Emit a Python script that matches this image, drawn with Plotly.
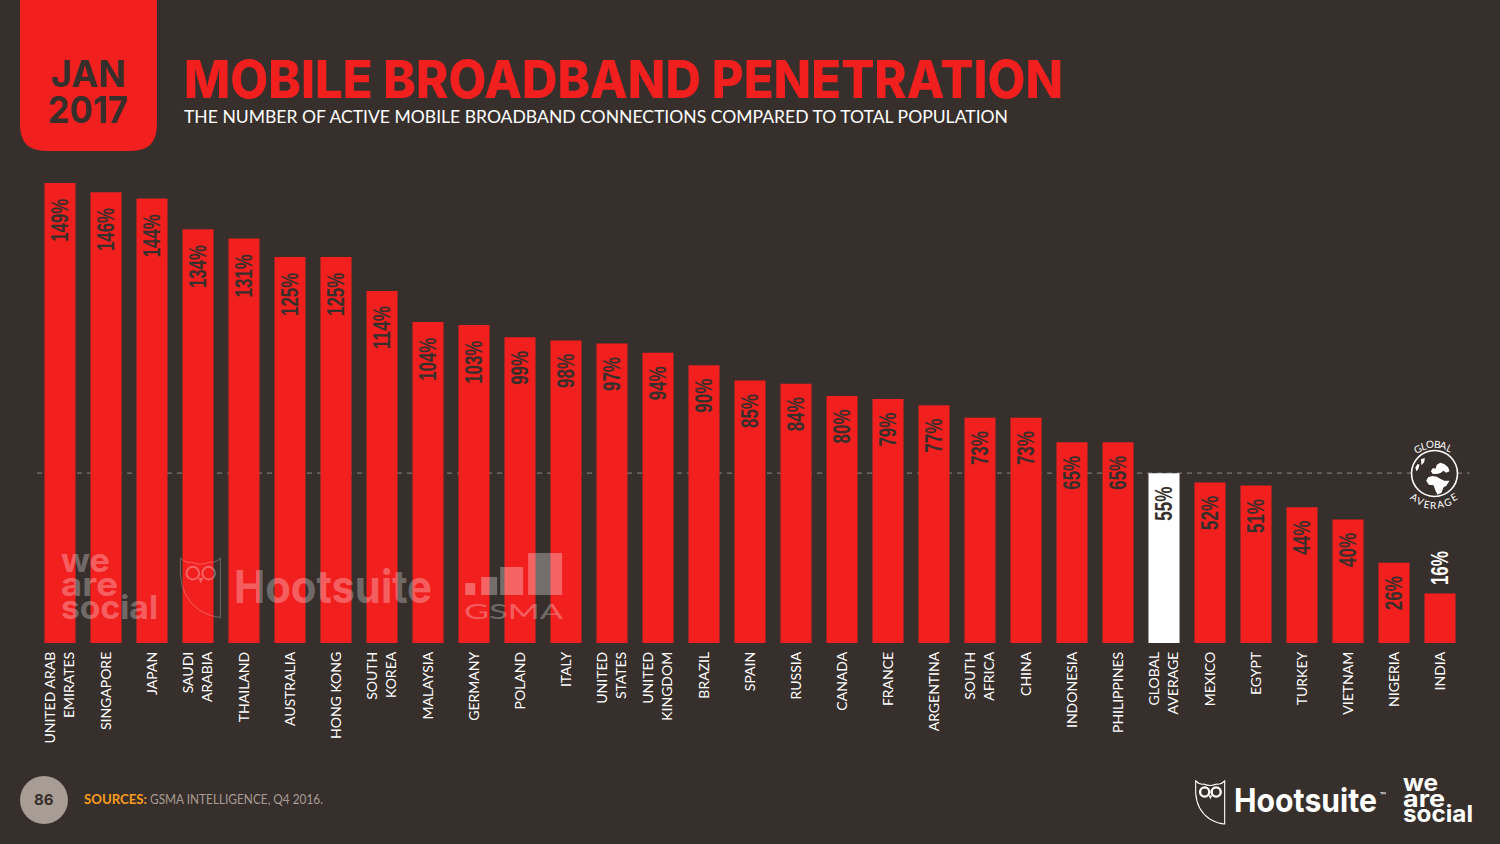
import json
import plotly.graph_objects as go

categories = ["UNITED ARAB<br>EMIRATES", "SINGAPORE", "JAPAN", "SAUDI<br>ARABIA", "THAILAND", "AUSTRALIA",
              "HONG KONG", "SOUTH<br>KOREA", "MALAYSIA", "GERMANY", "POLAND", "ITALY", "UNITED<br>STATES",
              "UNITED<br>KINGDOM", "BRAZIL", "SPAIN", "RUSSIA", "CANADA", "FRANCE", "ARGENTINA", "SOUTH<br>AFRICA",
              "CHINA", "INDONESIA", "PHILIPPINES", "GLOBAL<br>AVERAGE", "MEXICO", "EGYPT", "TURKEY", "VIETNAM",
              "NIGERIA", "INDIA"]
values = [149, 146, 144, 134, 131, 125, 125, 114, 104, 103, 99, 98, 97, 94, 90, 85, 84, 80, 79, 77, 73, 73,
          65, 65, 55, 52, 51, 44, 40, 26, 16]
global_average = 55
highlight = "GLOBAL<br>AVERAGE"
outside_label = "INDIA"

BG = "#372f2c"; RED = "#f1201f"; DARK = "#372f2c"; WHITE = "#ffffff"; TAUPE = "#a79d94"; ORANGE = "#f99d1c"
W, H = 1500, 844
GEO = "Lato"
HEAVY = "Inter"
NARROW = "Liberation Sans"
L, R, T, B = 36.5, 1463.5, 170, 643
ymax = (B - T) / (460 / 149)


def px(x): return (x - L) / (R - L)
def py(y): return (B - y) / (B - T)


fig = go.Figure()
fig.add_trace(go.Bar(
    x=categories, y=values, width=0.675,
    marker=dict(color=[WHITE if c == highlight else RED for c in categories], line_width=0),
    hoverinfo="skip", showlegend=False))

shapes = [dict(type="line", xref="paper", yref="y", x0=0, x1=px(1470), y0=global_average, y1=global_average,
               line=dict(color="#7d7672", width=1.3, dash="5px,5px"), layer="below")]
NOFILL = "rgba(0,0,0,0)"


def abs_rect(x0, y0, x1, y1, **k):
    shapes.append(dict(type="rect", xref="paper", yref="paper", x0=px(x0), x1=px(x1), y0=py(y0), y1=py(y1),
                       line_width=0, **k))


def abs_path(pts, **k):
    d = "M" + " L".join(f"{px(x):.5f},{py(y):.5f}" for x, y in pts) + " Z"
    shapes.append(dict(type="path", xref="paper", yref="paper", path=d, **k))


def abs_circle(cx, cy, r, **k):
    shapes.append(dict(type="circle", xref="paper", yref="paper", x0=px(cx - r), x1=px(cx + r),
                       y0=py(cy + r), y1=py(cy - r), **k))


# date badge with rounded bottom corners
r = 26
bl, br = 19.5, 156.5
shapes.append(dict(type="path", xref="paper", yref="paper", line_width=0, fillcolor=RED,
    path=f"M{px(bl)},{py(-1)} L{px(br)},{py(-1)} L{px(br)},{py(151-r)} Q{px(br)},{py(151)} {px(br-r)},{py(151)} "
         f"L{px(bl+r)},{py(151)} Q{px(bl)},{py(151)} {px(bl)},{py(151-r)} Z"))
abs_circle(43.5, 800, 24, fillcolor=TAUPE, line_width=0)


def owl(x, y, s, color, width):
    P = lambda a, b: f"{px(x + a * s):.5f},{py(y + b * s):.5f}"
    d = (f"M{P(0,0)} Q{P(4,4)} {P(8,3)} Q{P(14.5,6)} {P(21,3)} Q{P(25,4)} {P(29,0)} L{P(29,43)} "
         f"Q{P(23,43)} {P(14,38)} Q{P(1,29)} {P(0,12)} Z")
    shapes.append(dict(type="path", xref="paper", yref="paper", path=d, line=dict(color=color, width=width),
                       fillcolor=NOFILL))
    for cx in (9, 20.5):
        abs_circle(x + cx * s, y + 11 * s, 4.6 * s, line=dict(color=color, width=width * 2.2), fillcolor=NOFILL)
    abs_path([(x + 13 * s, y + 14.5 * s), (x + 16.5 * s, y + 14.5 * s), (x + 14.7 * s, y + 18.5 * s)],
             fillcolor=color, line_width=0)


WM = "rgba(255,255,255,0.3)"
owl(1196, 781, 1.0, WHITE, 1.1)
owl(180, 558, 1.38, "rgba(255,255,255,0.3)", 0.9)

# GSMA watermark bars
for x0, y0, x1 in [(465, 583, 475), (481, 577, 497), (500, 567, 523), (528, 553, 562)]:
    abs_rect(x0, y0, x1, 595, fillcolor=WM, layer="above")

# globe
abs_circle(1435, 473.5, 23, line=dict(color=WHITE, width=1.6), fillcolor=BG)


def land(pts):
    abs_path([(1400 + a / 3, 430 + b / 3) for a, b in pts], fillcolor=WHITE, line_width=0)


land([(80, 152), (86, 142), (98, 138), (112, 140), (122, 146), (134, 152), (150, 152), (140, 168), (132, 172),
      (126, 188), (114, 194), (108, 182), (102, 166), (88, 164)])
land([(94, 124), (100, 114), (108, 116), (112, 104), (122, 98), (134, 102), (146, 112), (150, 124), (140, 128),
      (132, 122), (122, 130), (110, 132), (100, 132)])
land([(64, 88), (76, 84), (74, 96), (66, 106)])
land([(48, 112), (54, 102), (60, 104), (56, 118), (50, 124)])

ann = []
fits = []


def text(x, y, s, size, color, family=GEO, anchor="left", bold=False, angle=0, fit=None, weight=None):
    if fit:
        fits.append([len(ann), fit])
    font = dict(size=size, color=color, family=family)
    if weight:
        font["weight"] = weight
    ann.append(dict(xref="paper", yref="paper", x=px(x), y=py(y), text=f"<b>{s}</b>" if bold else s,
                    showarrow=False, xanchor=anchor, yanchor="middle", align=anchor, textangle=angle, font=font))


text(88, 74, "JAN", 37, DARK, HEAVY, "center", bold=True, fit=75)
text(88, 110, "2017", 37, DARK, HEAVY, "center", bold=True, fit=80)
text(182, 79, "MOBILE BROADBAND PENETRATION", 52, RED, HEAVY, weight=800, fit=879)
text(182, 116, "THE NUMBER OF ACTIVE MOBILE BROADBAND CONNECTIONS COMPARED TO TOTAL POPULATION", 18, WHITE, fit=824)
text(43.5, 799, "86", 15, DARK, HEAVY, "center", bold=True)
text(82, 799, "SOURCES:", 12.5, ORANGE, GEO, bold=True, fit=63)
text(148, 799, "GSMA INTELLIGENCE, Q4 2016.", 12.5, TAUPE, fit=173)

text(1232, 800, "Hootsuite", 33, WHITE, HEAVY, bold=True, fit=143)
text(1378, 795, "™", 8, WHITE)
for t, yy, w in [("we", 783, 35), ("are", 799, 42), ("social", 814, 70)]:
    text(1401, yy, t, 23, WHITE, HEAVY, bold=True, fit=w)
for t, yy, w in [("we", 560, 49), ("are", 584, 57), ("social", 607, 97)]:
    text(59, yy, t, 33, WM, HEAVY, bold=True, fit=w)
text(232, 586, "Hootsuite", 45, WM, HEAVY, bold=True, fit=198)
text(462, 610, "GSMA", 21, WM, GEO, fit=99)

# curved words round the globe
for ch, x, y, a in zip("GLOBAL", [1418, 1424, 1430, 1437, 1444, 1450], [449, 446, 444, 444, 445, 448],
                       [-25, -15, -5, 5, 15, 25]):
    text(x, y, ch, 10, WHITE, anchor="center", angle=a)
for ch, x, y, a in zip("AVERAGE", [1415, 1421, 1427, 1434, 1441, 1448, 1454], [497, 501, 504, 505, 504, 502, 497],
                       [30, 20, 10, 0, -10, -20, -30]):
    text(x, y, ch, 10, WHITE, anchor="center", angle=a)

# value labels, read from the same arrays
for c, v in zip(categories, values):
    out = c == outside_label
    fits.append([len(ann), 43 if v >= 100 else 34])
    ann.append(dict(xref="x", yref="y", x=c, y=v, text=f"<b>{v}%</b>", showarrow=False, textangle=-90,
                    xanchor="center", yanchor="bottom" if out else "top", yshift=-1 if out else -5, xshift=-0.5,
                    font=dict(size=24, color=WHITE if out else DARK, family=NARROW)))

fig.update_layout(
    width=W, height=H, autosize=False, paper_bgcolor=BG, plot_bgcolor="rgba(0,0,0,0)",
    margin=dict(l=L, r=W - R, t=T, b=H - B, pad=0), showlegend=False, shapes=shapes, annotations=ann,
    bargap=0.325, font=dict(family=GEO),
    xaxis=dict(type="category", categoryorder="array", categoryarray=categories, tickangle=-90, ticks="",
               showgrid=False, zeroline=False, showline=False, ticklabelstandoff=5,
               tickfont=dict(family=GEO, size=14, color=WHITE), range=[-0.5, len(categories) - 0.5]),
    yaxis=dict(range=[0, ymax], visible=False, showgrid=False, zeroline=False))

post = """
document.body.style.margin='0';document.body.style.overflow='hidden';
var fits=%s;
function applyFits(){
  fits.forEach(function(f){
    var g=document.querySelector('.annotation[data-index="'+f[0]+'"] text');
    if(g){g.setAttribute('textLength',f[1]);g.setAttribute('lengthAdjust','spacingAndGlyphs');}
  });
}
applyFits();setTimeout(applyFits,50);setTimeout(applyFits,300);
""" % json.dumps(fits)
fig.write_html("out.html", config=dict(displayModeBar=False), post_script=post)
